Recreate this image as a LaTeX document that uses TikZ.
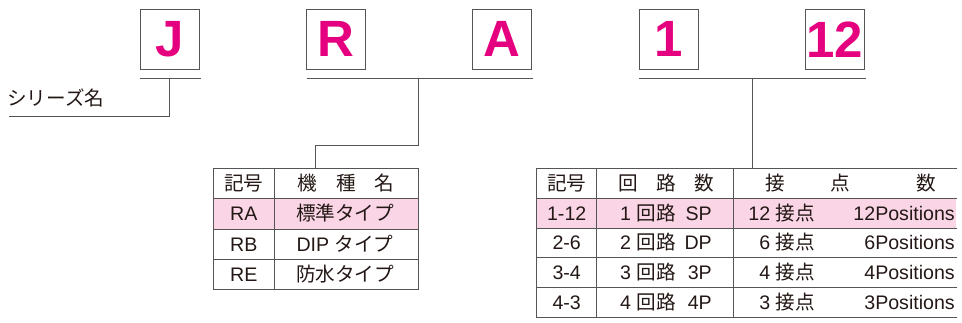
\documentclass[tikz,border=0pt]{standalone}
\usepackage{fontspec}
\setmainfont{Liberation Sans}
\newfontfamily\jp{Noto Sans CJK JP}
\definecolor{mag}{HTML}{E4007F}
\definecolor{pinkfill}{HTML}{F9D5E5}
\definecolor{ln}{HTML}{555555}
\definecolor{tx}{HTML}{231815}
\begin{document}
\begin{tikzpicture}[x=1pt,y=-1pt,
  letterbox/.style={draw=ln,line width=0.9pt,minimum width=59pt,minimum height=60pt,inner sep=0pt,
    font=\fontsize{51}{51}\selectfont\bfseries,text=mag},
  conn/.style={draw=ln,line width=0.9pt},
  grid/.style={draw=ln,line width=0.8pt},
  cell/.style={anchor=base,inner sep=0pt,font=\fontsize{19.6}{19.6}\selectfont,text=tx},
  cellw/.style={cell,anchor=base west},
  celle/.style={cell,anchor=base east}]
\useasboundingbox (0,0) rectangle (962,322);
% letter boxes
\node[letterbox] (J) at (169.7,39.3) {J};
\node[letterbox] (R) at (336,39.3) {R};
\node[letterbox] (A) at (502.2,39.3) {A};
\node[letterbox] (one) at (668.7,39.3) {1};
\node[letterbox] (twelve) at (835,39.3) {12};
% underlines and connectors
\coordinate (jl) at (140,78); \coordinate (jr) at (200.7,78);
\coordinate (jm) at (169.7,78); \coordinate (jc) at (169.7,116.7); \coordinate (je) at (8.7,116.7);
\draw[conn] (jl) -- (jr);
\draw[conn] (jm) -- (jc) -- (je);
\node[cellw] (series) at (7,105.5) {\jp シリーズ名};
\coordinate (rl) at (306.7,78); \coordinate (rr) at (532.7,78);
\coordinate (rm) at (418.3,78); \coordinate (rc) at (418.3,145); \coordinate (rd) at (315.3,145);
\coordinate (rt) at (315.3,168.3);
\draw[conn] (rl) -- (rr);
\draw[conn] (rm) -- (rc) -- (rd) -- (rt);
\coordinate (nl) at (639,78); \coordinate (nr) at (865.7,78);
\coordinate (nm) at (752,78); \coordinate (nt) at (752,168.3);
\draw[conn] (nl) -- (nr);
\draw[conn] (nm) -- (nt);
% left table
\fill[pinkfill] (213.3,198.3) rectangle (418.3,229.3);
\draw[grid] (213.3,168.3) rectangle (418.3,289.3);
\draw[grid] (213.3,198.3) -- (418.3,198.3);
\draw[grid] (213.3,229.3) -- (418.3,229.3);
\draw[grid] (213.3,259) -- (418.3,259);
\draw[grid] (274.3,168.3) -- (274.3,289.3);
\node[cell] (lh1) at (243.8,190.5) {\jp 記号};
\node[cell] (lh2) at (346,190.5) {\jp 機\hspace{0.95em}種\hspace{0.95em}名};
\node[cell] (l11) at (243.8,220.8) {RA};
\node[cell] (l12) at (345,220.8) {\jp 標準タイプ};
\node[cell] (l21) at (243.8,251) {RB};
\node[cell] (l22) at (345,251) {DIP {\jp タイプ}};
\node[cell] (l31) at (243.8,281) {RE};
\node[cell] (l32) at (345,281) {\jp 防水タイプ};
% right table
\fill[pinkfill] (536.7,198.3) rectangle (956,228);
\draw[grid] (957,168.3) -- (536.7,168.3) -- (536.7,317) -- (957,317);
\foreach \yy in {198.3,228,257.7,287.3} \draw[grid] (536.7,\yy) -- (957,\yy);
\draw[grid] (596.7,168.3) -- (596.7,317);
\draw[grid] (733,168.3) -- (733,317);
\node[cell] (rh1) at (566.7,190.5) {\jp 記号};
\node[cell] (rh2) at (666.5,190.5) {\jp 回\hspace{0.95em}路\hspace{0.95em}数};
\node[cellw] (rh3a) at (765.5,190.5) {\jp 接};
\node[cellw] (rh3b) at (830,190.5) {\jp 点};
\node[cellw] (rh3c) at (916,190.5) {\jp 数};
% data rows
\node[cell] (r11) at (566.7,220) {1-12};
\node[cellw] (r12) at (620,220) {1 {\jp 回路}};
\node[celle] (r13) at (712,220) {SP};
\node[celle] (r14) at (815,220) {12 {\jp 接点}};
\node[celle] (r15) at (955,220) {12Positions};
\node[cell] (r21) at (566.7,249.7) {2-6};
\node[cellw] (r22) at (620,249.7) {2 {\jp 回路}};
\node[celle] (r23) at (712,249.7) {DP};
\node[celle] (r24) at (815,249.7) {6 {\jp 接点}};
\node[celle] (r25) at (955,249.7) {6Positions};
\node[cell] (r31) at (566.7,279.4) {3-4};
\node[cellw] (r32) at (620,279.4) {3 {\jp 回路}};
\node[celle] (r33) at (712,279.4) {3P};
\node[celle] (r34) at (815,279.4) {4 {\jp 接点}};
\node[celle] (r35) at (955,279.4) {4Positions};
\node[cell] (r41) at (566.7,309) {4-3};
\node[cellw] (r42) at (620,309) {4 {\jp 回路}};
\node[celle] (r43) at (712,309) {4P};
\node[celle] (r44) at (815,309) {3 {\jp 接点}};
\node[celle] (r45) at (955,309) {3Positions};
\end{tikzpicture}
\end{document}
